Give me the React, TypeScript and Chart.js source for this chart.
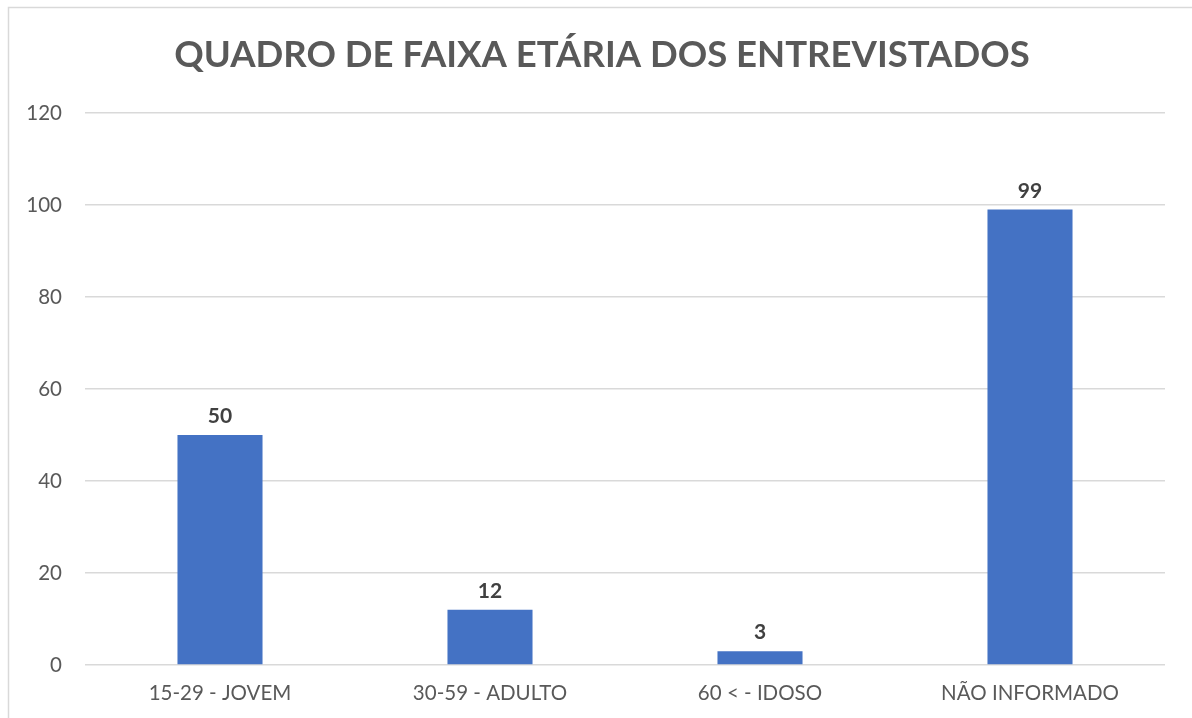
import React, { useEffect, useRef } from "react";
import { Chart, registerables } from "chart.js";

Chart.register(...registerables);

const TITLE = "QUADRO DE FAIXA ETÁRIA DOS ENTREVISTADOS";
const categories = ["15-29 - JOVEM", "30-59 - ADULTO", "60 < - IDOSO", "NÃO INFORMADO"];
const values = [50, 12, 3, 99];
const yMin = 0;
const yMax = 120;
const yStep = 20;

const FONT = "Lato, 'Open Sans', sans-serif";

const framePlugin = {
  id: "frame",
  beforeDraw(chart: any) {
    const ctx = chart.ctx;
    ctx.save();
    ctx.fillStyle = "#ffffff";
    ctx.fillRect(0, 0, chart.width, chart.height);
    ctx.strokeStyle = "#d9d9d9";
    ctx.lineWidth = 1.5;
    ctx.beginPath();
    ctx.moveTo(8.5, chart.height);
    ctx.lineTo(8.5, 7.5);
    ctx.lineTo(chart.width, 7.5);
    ctx.stroke();
    ctx.restore();
  },
  afterDraw(chart: any) {
    const ctx = chart.ctx;
    ctx.save();
    ctx.fillStyle = "#595959";
    ctx.font = `bold 36.5px ${FONT}`;
    ctx.textAlign = "center";
    ctx.textBaseline = "middle";
    ctx.fillText(TITLE, 602, 55);
    // data labels
    const meta = chart.getDatasetMeta(0);
    ctx.fillStyle = "#404040";
    ctx.font = `bold 21px ${FONT}`;
    ctx.textBaseline = "bottom";
    meta.data.forEach((bar: any, i: number) => {
      ctx.fillText(String(chart.data.datasets[0].data[i]), bar.x, bar.y - 8);
    });
    ctx.restore();
  },
};

export default function App() {
  const ref = useRef<HTMLCanvasElement | null>(null);
  useEffect(() => {
    if (!ref.current) return;
    const chart = new Chart(ref.current, {
      type: "bar",
      data: {
        labels: categories,
        datasets: [
          {
            data: values,
            backgroundColor: "#4472C4",
            borderWidth: 0,
            barPercentage: 0.63,
            categoryPercentage: 0.5,
          },
        ],
      },
      options: {
        animation: false,
        responsive: false,
        devicePixelRatio: 1,
        layout: { padding: { top: 113, right: 27, left: 0, bottom: 0 } },
        plugins: { legend: { display: false }, title: { display: false }, tooltip: { enabled: false } },
        scales: {
          x: {
            grid: { display: false, drawTicks: false },
            border: { display: false },
            ticks: { color: "#595959", font: { family: FONT, size: 20.5 }, padding: 16, maxRotation: 0 },
            afterFit: (s: any) => { s.height = 53; },
          },
          y: {
            min: yMin,
            max: yMax,
            ticks: { stepSize: yStep, color: "#595959", font: { family: FONT, size: 20.5 }, padding: 23 },
            grid: { color: "#d9d9d9", lineWidth: 1.5, drawTicks: false },
            border: { display: false },
            afterFit: (s: any) => { s.width = 85; },
          },
        },
      },
      plugins: [framePlugin],
    });
    return () => chart.destroy();
  }, []);
  return (
    <div style={{ position: "fixed", left: 0, top: 0, width: 1192, height: 718 }}>
      <canvas ref={ref} width={1192} height={718} />
    </div>
  );
}
